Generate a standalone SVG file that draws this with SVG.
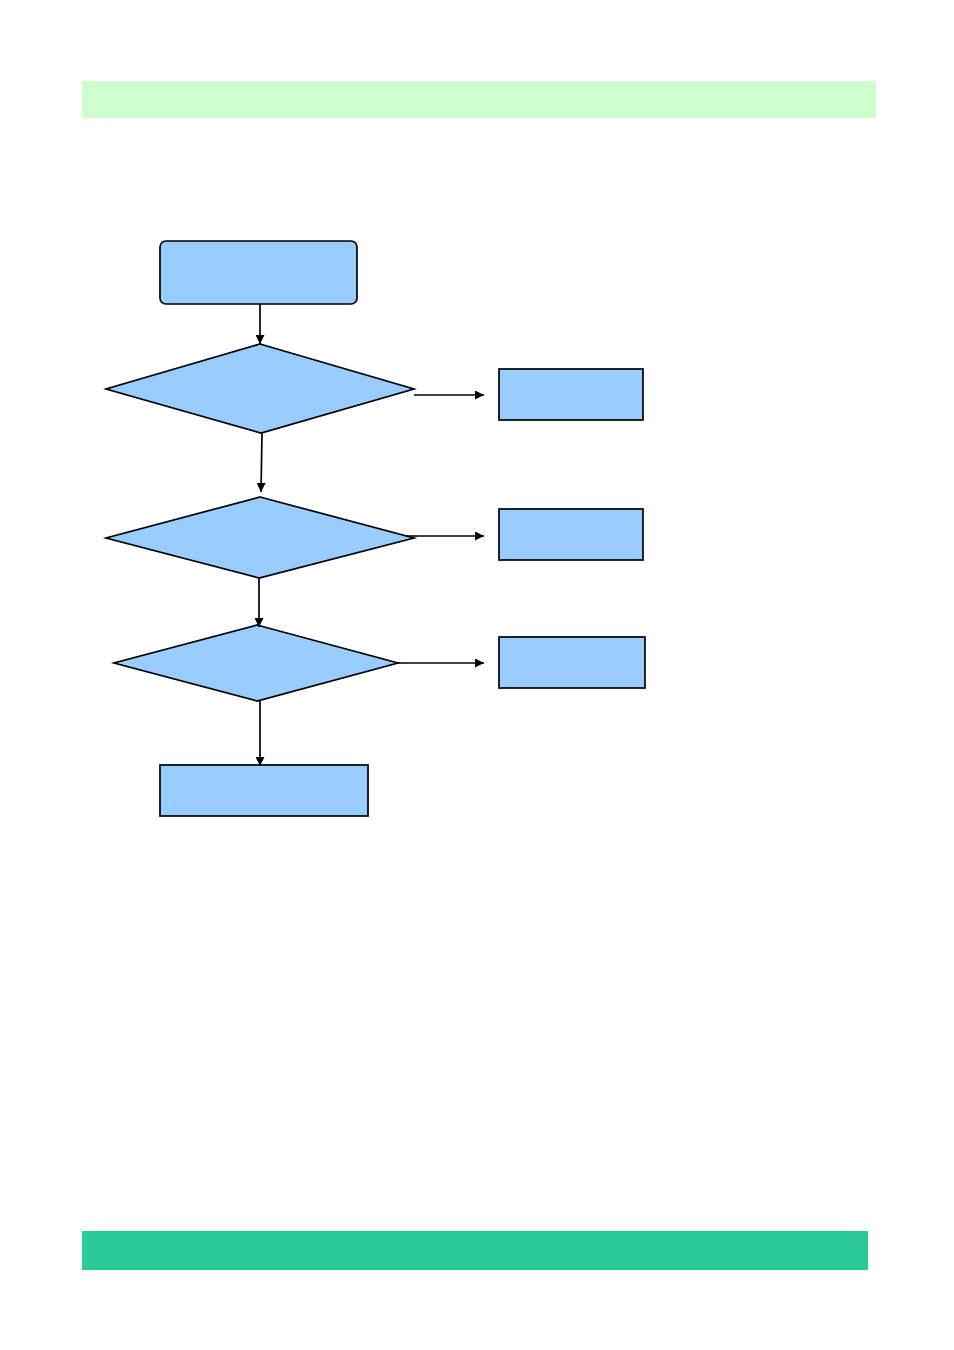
<svg xmlns="http://www.w3.org/2000/svg" width="954" height="1350" viewBox="0 0 954 1350">
<style>
.n{fill:#99ccff;stroke:#000;stroke-width:1.7}
.c{stroke:#000;stroke-width:1.7;fill:none;marker-end:url(#ah)}
</style>
<defs>
<marker id="ah" viewBox="0 0 10 10" refX="10" refY="5" markerWidth="10" markerHeight="9" markerUnits="userSpaceOnUse" orient="auto">
<path d="M0,0 L10,5 L0,10 z" fill="#000"/>
</marker>
</defs>
<rect width="954" height="1350" fill="#fff"/>
<rect id="topbar" x="82" y="81" width="794" height="37" fill="#ccffcc"/>
<rect id="bottombar" x="82" y="1231" width="786" height="39" fill="#29cc96"/>
<g id="start"><rect class="n" x="160" y="241" width="197" height="63" rx="6"/></g>
<g id="decision1"><polygon class="n" points="260,344 414,389 261,433 106,389"/></g>
<g id="decision2"><polygon class="n" points="260,497 414,538 259,578 106,538"/></g>
<g id="decision3"><polygon class="n" points="257,625 398,663 257,701 114,663"/></g>
<g id="box1"><rect class="n" x="499" y="369" width="144" height="51"/></g>
<g id="box2"><rect class="n" x="499" y="509" width="144" height="51"/></g>
<g id="box3"><rect class="n" x="499" y="637" width="146" height="51"/></g>
<g id="end"><rect class="n" x="160" y="765" width="208" height="51"/></g>
<g id="connectors">
<line class="c" x1="260" y1="304" x2="260" y2="344"/>
<line class="c" x1="414" y1="395" x2="484" y2="395"/>
<line class="c" x1="262" y1="433" x2="261" y2="492"/>
<line class="c" x1="405" y1="536" x2="484" y2="536"/>
<line class="c" x1="259" y1="578" x2="259" y2="627"/>
<line class="c" x1="398" y1="663" x2="484" y2="663"/>
<line class="c" x1="260" y1="701" x2="260" y2="766"/>
</g>
</svg>
